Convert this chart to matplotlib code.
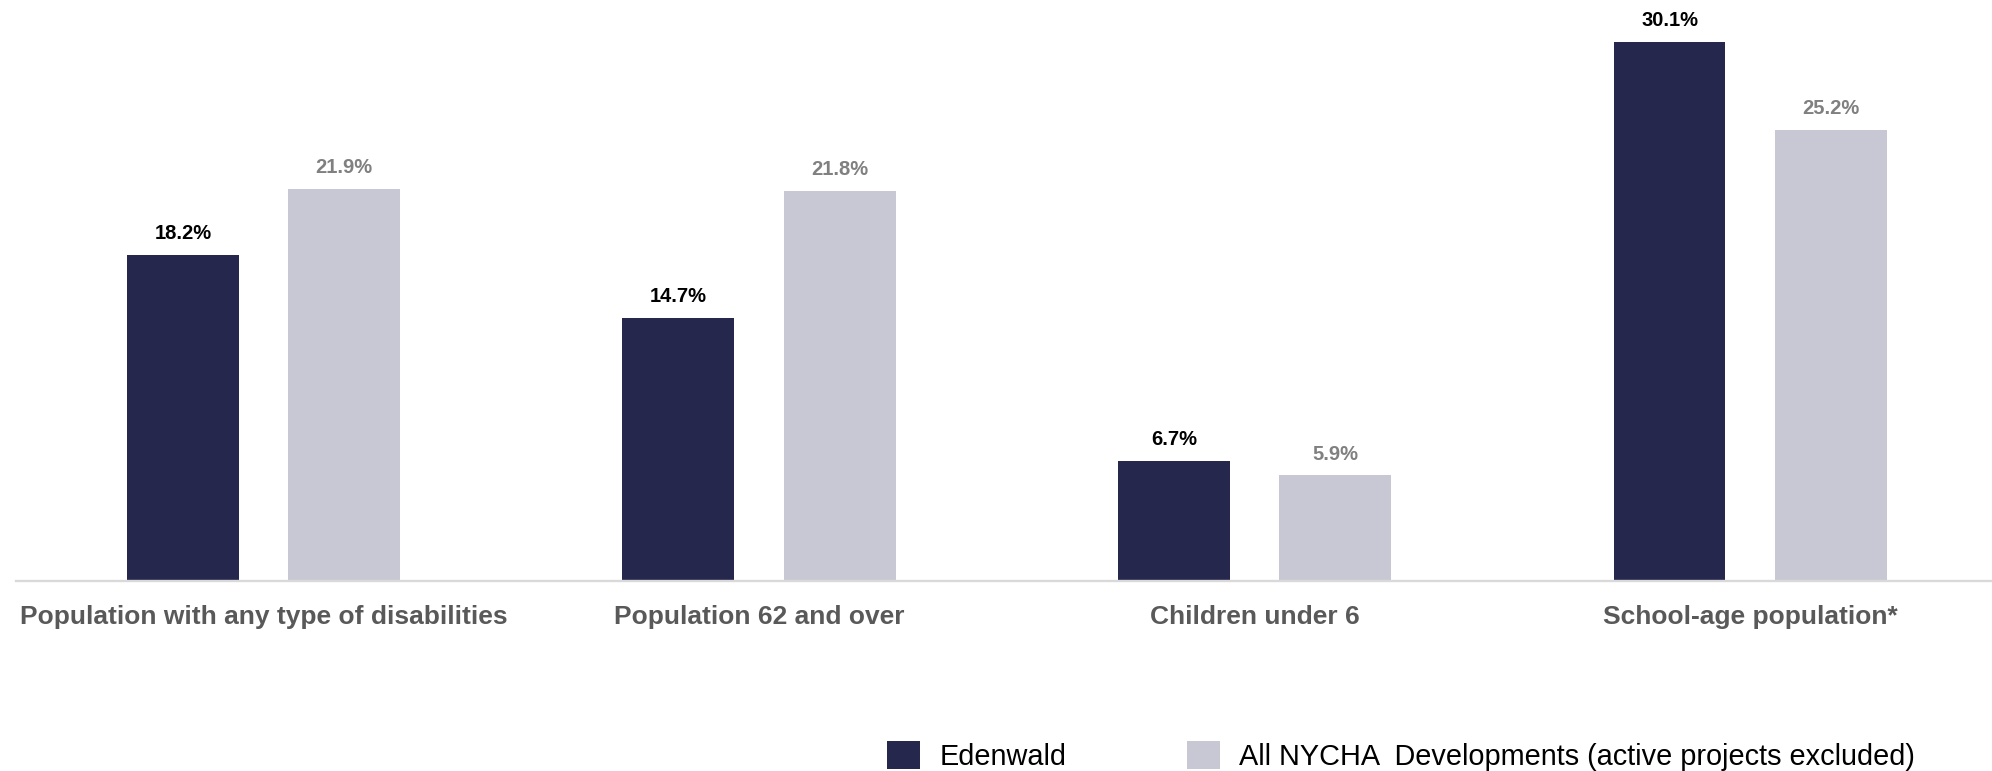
import matplotlib.pyplot as plt
import numpy as np

plt.rcParams['font.family'] = ['Liberation Sans', 'DejaVu Sans']

# data
categories = ['Population with any type of disabilities', 'Population 62 and over',
              'Children under 6', 'School-age population*']
edenwald = [18.2, 14.7, 6.7, 30.1]
nycha = [21.9, 21.8, 5.9, 25.2]
series_names = ['Edenwald', 'All NYCHA  Developments (active projects excluded)']

dark = '#25274c'
light = '#c8c8d4'

fig = plt.figure(figsize=(19.92, 7.71), dpi=100)
ax = fig.add_axes([0.0079, 0.2468, 0.995, 0.7429])

x = np.arange(len(categories))
w = 0.226
off = 0.1625
b1 = ax.bar(x - off, edenwald, w, color=dark, label=series_names[0])
b2 = ax.bar(x + off, nycha, w, color=light, label=series_names[1])

ax.bar_label(b1, labels=[f'{v:.1f}%' for v in edenwald], padding=8.3,
             fontsize=14.5, fontweight='bold', color='black')
ax.bar_label(b2, labels=[f'{v:.1f}%' for v in nycha], padding=8.3,
             fontsize=14.5, fontweight='bold', color='#808080')

ax.set_xlim(-0.5, 3.5)
ax.set_ylim(0, 32)
ax.set_xticks(x)
ax.set_xticklabels(categories, fontsize=19, fontweight='bold', color='#595959')
ax.tick_params(axis='x', length=0, pad=17.2)
ax.set_yticks([])
for s in ['top', 'right', 'left']:
    ax.spines[s].set_visible(False)
ax.spines['bottom'].set_color('#d9d9d9')
ax.spines['bottom'].set_linewidth(1.7)

fig.legend(handles=[b1, b2], loc='lower left', bbox_to_anchor=(0.4455, 0.0),
           ncol=2, frameon=False, fontsize=20.8, handlelength=1.11, handleheight=1.11,
           handletextpad=0.68, columnspacing=4.2, borderpad=0, borderaxespad=0)

fig.savefig('out.png', dpi=100)
